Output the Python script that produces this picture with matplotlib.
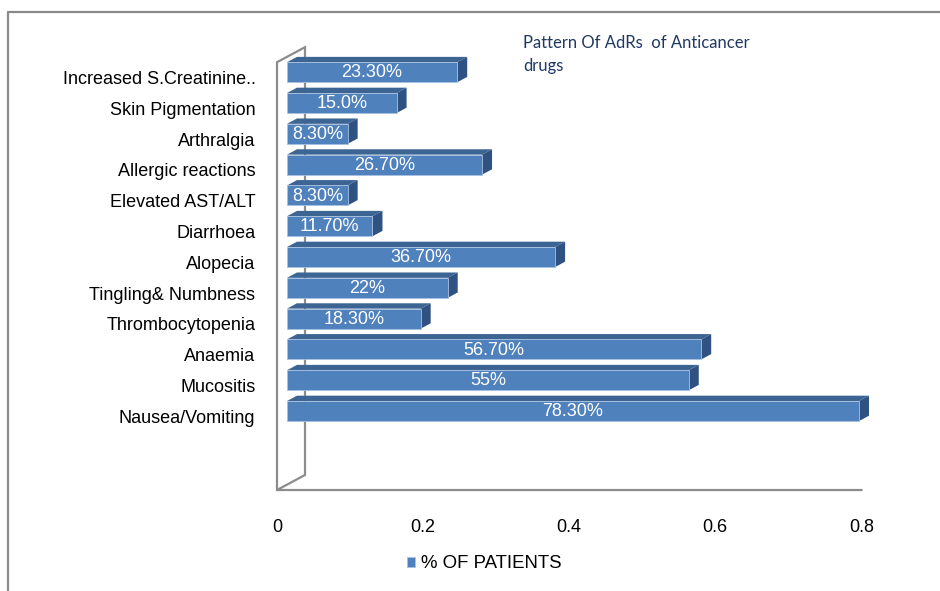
import matplotlib.pyplot as plt
from matplotlib.patches import Polygon
from matplotlib.lines import Line2D

# adverse drug reactions, bottom to top
reactions = ['Nausea/Vomiting', 'Mucositis', 'Anaemia', 'Thrombocytopenia',
             'Tingling& Numbness', 'Alopecia', 'Diarrhoea', 'Elevated AST/ALT',
             'Allergic reactions', 'Arthralgia', 'Skin Pigmentation',
             'Increased S.Creatinine..']
patients = [0.783, 0.55, 0.567, 0.183, 0.22, 0.367, 0.117, 0.083,
            0.267, 0.083, 0.15, 0.233]
value_labels = ['78.30%', '55%', '56.70%', '18.30%', '22%', '36.70%',
                '11.70%', '8.30%', '26.70%', '8.30%', '15.0%', '23.30%']
xticks = [0, 0.2, 0.4, 0.6, 0.8]

W, H = 940, 591
fig = plt.figure(figsize=(W / 100, H / 100), dpi=100)
plt.rcParams['font.family'] = ['Liberation Sans', 'DejaVu Sans']

# axes laid out in pixels: x=0 at px 277, 730.5 px per unit; 30.8 px per category
PX, PY = 730.5, 30.8
x_lo, x_hi = -0.02, 0.86
y_lo, y_hi = -2.6, 12.0
left_px = 277 + x_lo * PX
right_px = 277 + x_hi * PX
bot_px = 416.4 - y_lo * PY
top_px = 416.4 - y_hi * PY
ax = fig.add_axes([left_px / W, 1 - bot_px / H,
                   (right_px - left_px) / W, (bot_px - top_px) / H])
ax.set_xlim(x_lo, x_hi)
ax.set_ylim(y_lo, y_hi)


def depth(d):
    # perspective offset for d pixels of depth
    return d / PX, d * 0.536 / PY


# walls and floor
grey = '#8c8c8c'
floor, wall_top = -2.39, 11.5
bx, by = depth(28)
wall_x = [0, 0, bx, bx, 0, 0.8]
wall_y = [floor, wall_top, wall_top + by, floor + by, floor, floor]
ax.plot(wall_x, wall_y, color=grey, lw=1.6, clip_on=False, solid_joinstyle='miter')

# 3d bars sit between depth 10 and 20
fx, fy = depth(10)
sx, sy = depth(10)
h = 0.65
front = '#4f81bd'
top_c = '#3d6594'
side_c = '#2f5282'
ypos = list(range(len(reactions)))
bars = ax.barh([y + fy for y in ypos], patients, height=h, left=fx,
               color=front, edgecolor='#a9c1e0', linewidth=0.6,
               label='% OF PATIENTS', zorder=3)
for y, v, lab in zip(ypos, patients, value_labels):
    yb, yt = y + fy - h / 2, y + fy + h / 2
    ax.add_patch(Polygon([(fx, yt), (fx + v, yt), (fx + v + sx, yt + sy),
                          (fx + sx, yt + sy)], closed=True, color=top_c,
                         lw=0, zorder=2))
    ax.add_patch(Polygon([(fx + v, yb), (fx + v, yt), (fx + v + sx, yt + sy),
                          (fx + v + sx, yb + sy)], closed=True, color=side_c,
                         lw=0, zorder=2))
    ax.text(fx + v / 2, y + fy - 0.02, lab, color='white', fontsize=13,
            ha='center', va='center', zorder=4)

ax.set_yticks(ypos)
ax.set_yticklabels(reactions, fontsize=13)
ax.set_xticks(xticks)
ax.set_xticklabels(['0', '0.2', '0.4', '0.6', '0.8'], fontsize=13)
ax.tick_params(length=0)
ax.tick_params(axis='x', pad=16)
ax.tick_params(axis='y', pad=5)
for s in ax.spines.values():
    s.set_visible(False)

ax.legend(handles=[bars], loc='center', bbox_to_anchor=(484 / W, 1 - 564 / H),
          bbox_transform=fig.transFigure, frameon=False, fontsize=13.4,
          handlelength=0.45, handleheight=0.45, handletextpad=0.3)

fig.text(523 / W, 1 - 35 / H, 'Pattern Of AdRs  of Anticancer\ndrugs',
         family=['Lato', 'DejaVu Sans'], fontsize=12, color='#1f3864',
         va='top', ha='left', linespacing=1.55)

# chart border (top and left edges)
fig.add_artist(Line2D([8 / W, 8 / W, 1], [0, 1 - 12 / H, 1 - 12 / H],
                      transform=fig.transFigure, color='#8a8a8a', lw=1.6))

fig.savefig('out.png', dpi=100)
